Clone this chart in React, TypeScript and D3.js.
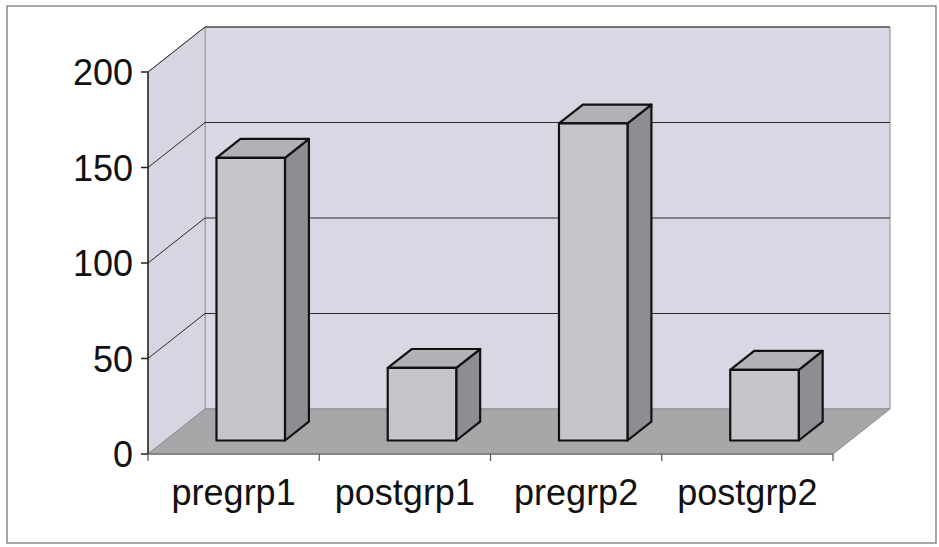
import React from "react";
import * as d3 from "d3";

const categories = ["pregrp1", "postgrp1", "pregrp2", "postgrp2"];
const values = [148, 38, 166, 37];
const yTicks = [0, 50, 100, 150, 200];

const W = 939;
const H = 547;
const DX = 57;
const DY = -45;
const Z_FRONT = 0.3;
const Z_BACK = 0.72;

export default function App() {
  const y = d3.scaleLinear().domain([0, 200]).range([454, 72]);
  const x = d3.scaleBand<string>().domain(categories).range([148, 833]).padding(0);
  const bw = x.bandwidth();
  const barW = bw * 0.4;
  const p = (px: number, py: number, z: number): [number, number] => [px + z * DX, py + z * DY];
  const poly = (pts: [number, number][]) => pts.map((q) => q.join(",")).join(" ");

  const x0 = x.range()[0];
  const x1 = x.range()[1];
  const yb = y(0);
  const yt = y(200);

  const font = "'Liberation Sans', Arial, sans-serif";

  return (
    <svg width={W} height={H} style={{ position: "absolute", left: 0, top: 0, background: "#fff" }}>
      <rect x={7} y={6} width={929} height={537} fill="#fff" stroke="#8a8a8a" strokeWidth={1.5} />
      {/* back wall */}
      <polygon
        points={poly([p(x0, yt, 1), p(x1, yt, 1), p(x1, yb, 1), p(x0, yb, 1)])}
        fill="#d7d8e4"
        stroke="#8c8c90"
        strokeWidth={1}
      />
      {/* side wall */}
      <polygon
        points={poly([p(x0, yt, 0), p(x0, yt, 1), p(x0, yb, 1), p(x0, yb, 0)])}
        fill="#d5d6e2"
        stroke="#9a9aa0"
        strokeWidth={1}
      />
      {/* floor */}
      <polygon
        points={poly([p(x0, yb, 0), p(x0, yb, 1), p(x1, yb, 1), p(x1, yb, 0)])}
        fill="#a7a7aa"
        stroke="#8c8c8c"
        strokeWidth={1}
      />
      {/* gridlines */}
      {yTicks.filter((t) => t > 0).map((t) => {
        const a = p(x0, y(t), 0);
        const b = p(x0, y(t), 1);
        const c = p(x1, y(t), 1);
        return (
          <g key={t}>
            <line x1={a[0]} y1={a[1]} x2={b[0]} y2={b[1]} stroke="#2a2a2a" strokeWidth={1} />
            <line x1={b[0]} y1={b[1]} x2={c[0]} y2={c[1]} stroke="#2a2a2a" strokeWidth={1} />
          </g>
        );
      })}
      {/* bars */}
      {categories.map((c, i) => {
        const cx = (x(c) as number) + bw / 2;
        const l = cx - barW / 2;
        const r = cx + barW / 2;
        const top = y(values[i]);
        const front = [p(l, top, Z_FRONT), p(r, top, Z_FRONT), p(r, yb, Z_FRONT), p(l, yb, Z_FRONT)] as [number, number][];
        const topFace = [p(l, top, Z_FRONT), p(l, top, Z_BACK), p(r, top, Z_BACK), p(r, top, Z_FRONT)] as [number, number][];
        const side = [p(r, top, Z_FRONT), p(r, top, Z_BACK), p(r, yb, Z_BACK), p(r, yb, Z_FRONT)] as [number, number][];
        return (
          <g key={c} stroke="#111" strokeWidth={2.2} strokeLinejoin="round">
            <polygon points={poly(side)} fill="#8d8d92" />
            <polygon points={poly(topFace)} fill="#b2b2b6" />
            <polygon points={poly(front)} fill="#c6c6ca" />
          </g>
        );
      })}
      {/* y axis */}
      <line x1={x0} y1={yt} x2={x0} y2={yb} stroke="#222" strokeWidth={1.5} />
      <line x1={x0} y1={yb} x2={x1} y2={yb} stroke="#777" strokeWidth={1.5} />
      {yTicks.map((t) => (
        <g key={t}>
          <line x1={x0 - 7} y1={y(t)} x2={x0} y2={y(t)} stroke="#222" strokeWidth={1.5} />
          <text x={133} y={y(t) + 13} textAnchor="end" fontFamily={font} fontSize={36} fill="#111">
            {t}
          </text>
        </g>
      ))}
      {/* x ticks */}
      {[...categories.map((c) => x(c) as number), x1].map((tx, i) => (
        <line key={i} x1={tx} y1={yb} x2={tx} y2={yb + 7} stroke="#555" strokeWidth={1.2} />
      ))}
      {categories.map((c) => (
        <text
          key={c}
          x={(x(c) as number) + bw / 2}
          y={505}
          textAnchor="middle"
          fontFamily={font}
          fontSize={36}
          fill="#111"
        >
          {c}
        </text>
      ))}
    </svg>
  );
}
